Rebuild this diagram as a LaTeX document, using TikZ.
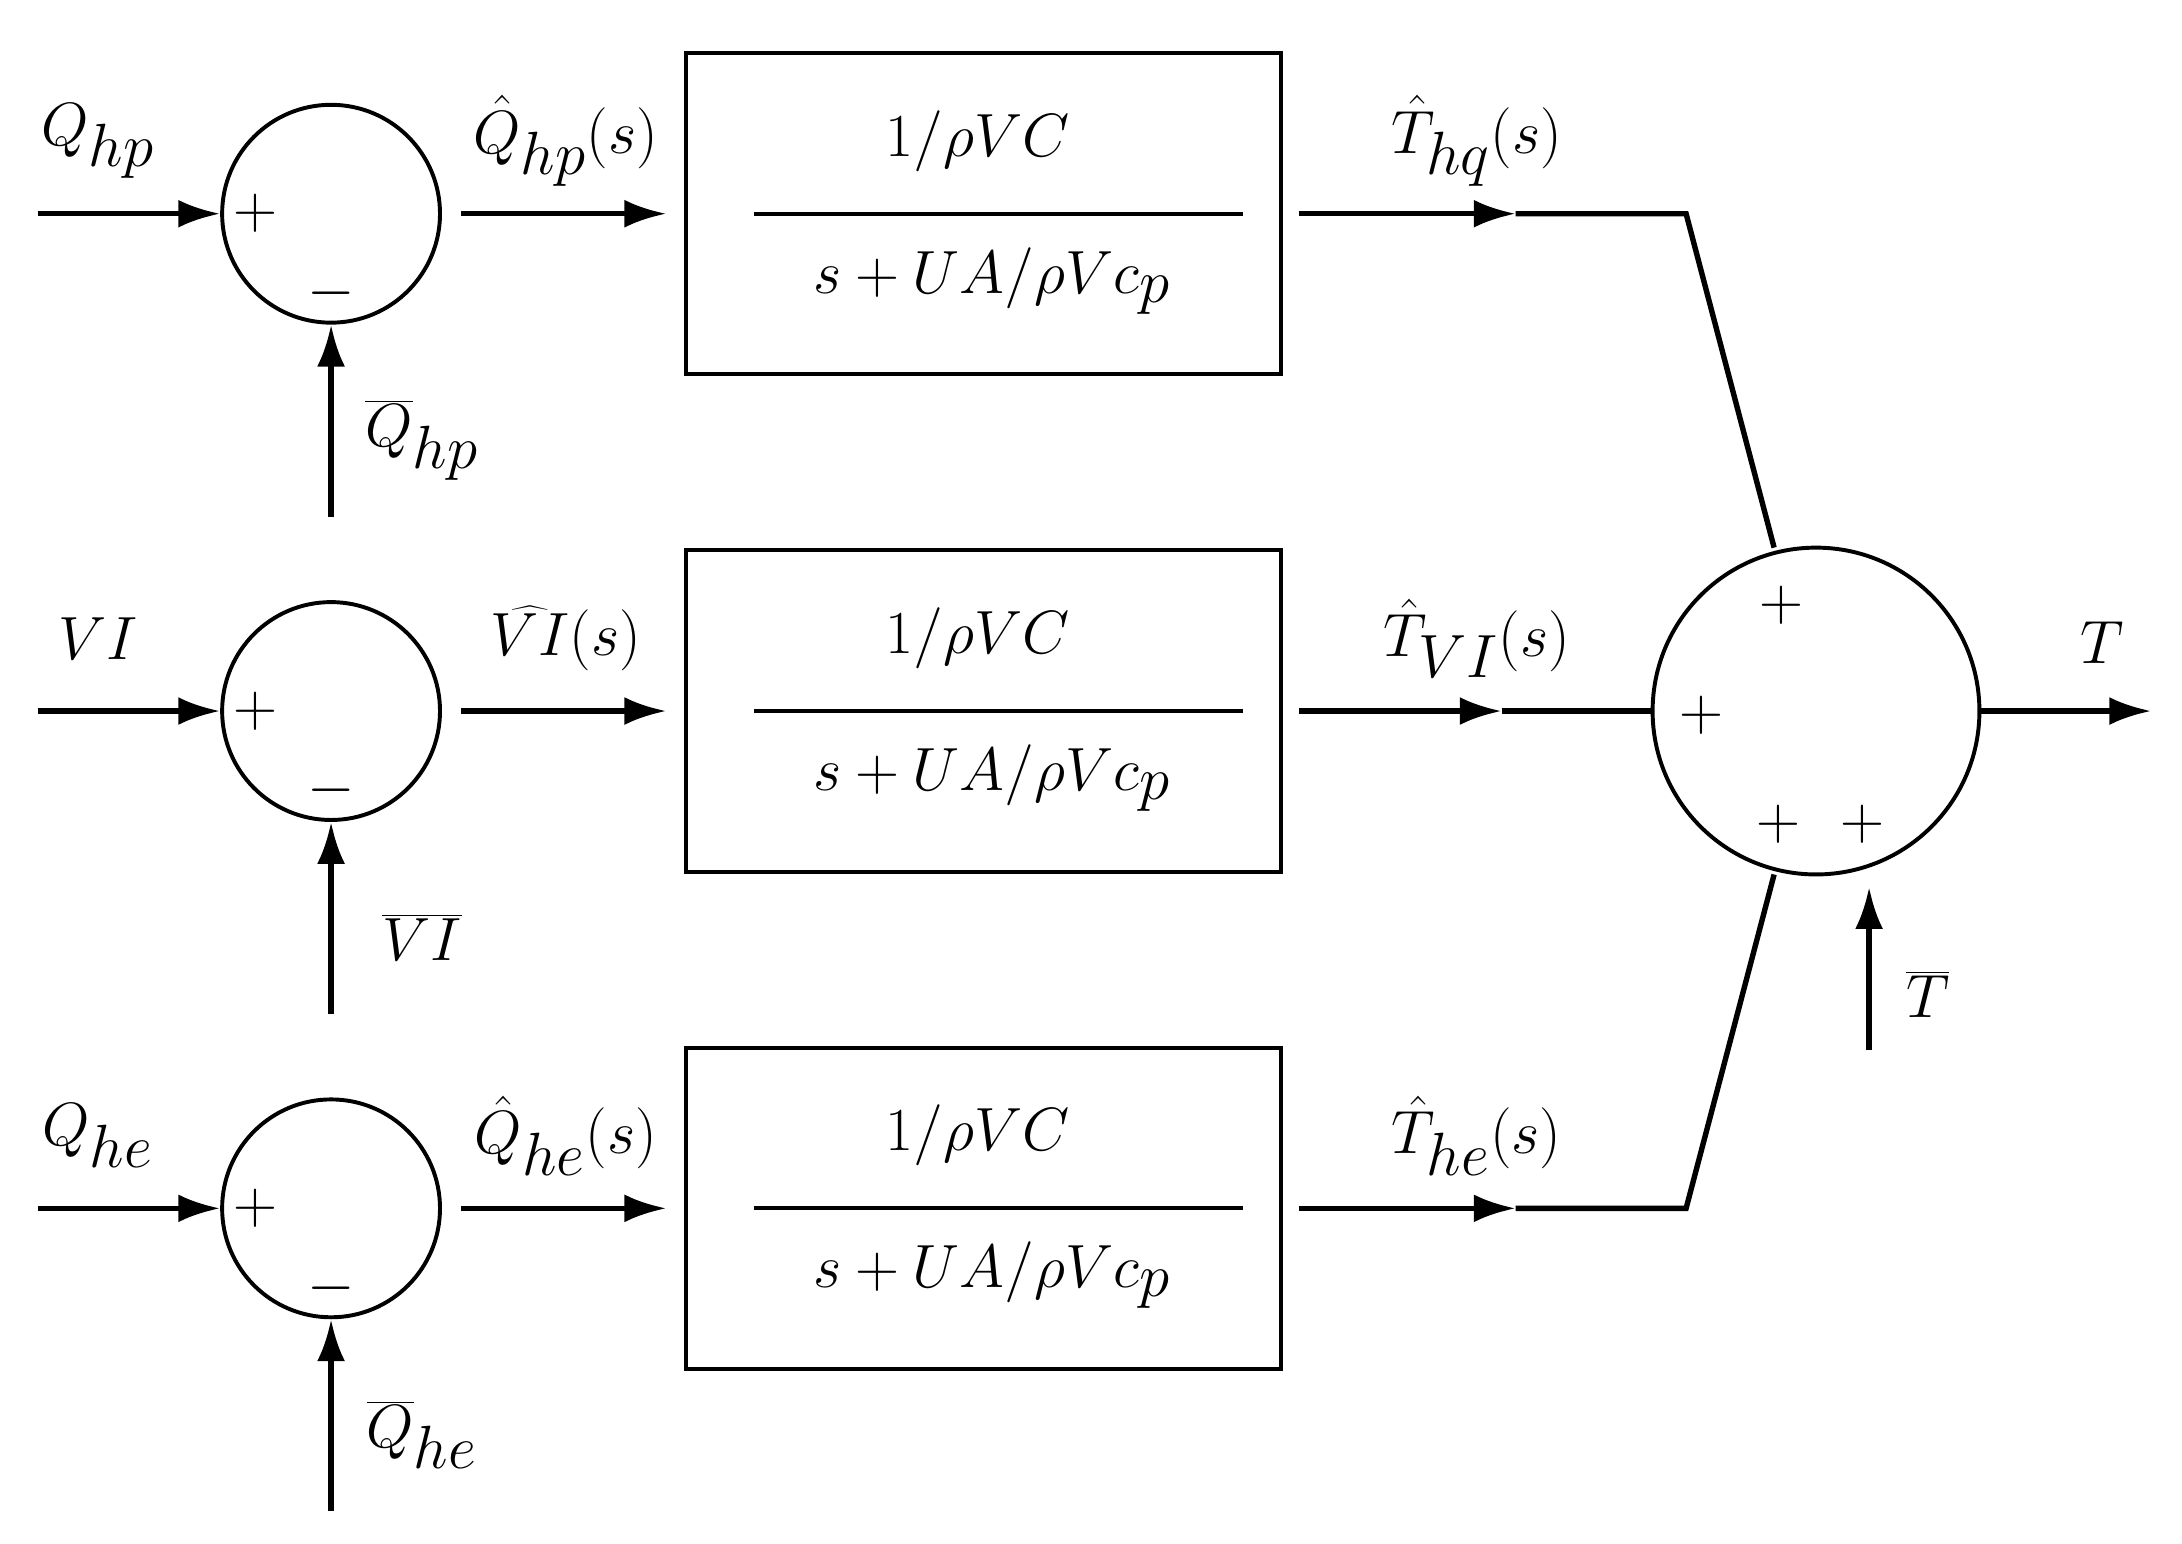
\documentclass[tikz,border=0pt]{standalone}
\usetikzlibrary{arrows.meta}
\begin{document}
\begin{tikzpicture}[x=0.02cm,y=-0.02cm,line width=2.2pt,
  arr/.style={-{Latex[length=0.6cm,width=0.4cm]}},
  sumc/.style={circle,draw,minimum size=3.12cm,inner sep=0pt,line width=1.6pt},
  bigc/.style={circle,draw,minimum size=4.68cm,inner sep=0pt,line width=1.6pt},
  blk/.style={draw,line width=1.6pt,minimum width=8.52cm,minimum height=4.6cm,inner sep=0pt},
  lbl/.style={font=\fontsize{33}{37}\selectfont,inner sep=0pt},
  sgn/.style={font=\fontsize{30}{34}\selectfont,inner sep=0pt}]
\useasboundingbox (0,0) rectangle (1562,1105);
\foreach \n/\y/\myin/\mybar/\myhat/\myout in {
  a/153/{Q_{hp}}/{\overline{Q}_{hp}}/{\hat{Q}_{hp}(s)}/{\hat{T}_{hq}(s)},
  b/509/{VI}/{\overline{VI}}/{\widehat{VI}(s)}/{\hat{T}_{VI}(s)},
  c/865/{Q_{he}}/{\overline{Q}_{he}}/{\hat{Q}_{he}(s)}/{\hat{T}_{he}(s)}}{
  \node[sumc] (s\n) at (237,\y) {};
  \node[sgn] at (183,\y) {$+$};
  \node[sgn] at (237,\y+57) {$-$};
  \coordinate (in\n) at (27,\y);
  \draw[arr] (in\n) -- (s\n.west);
  \node[lbl] at (70,\y-52) {$\myin$};
  \coordinate (bb\n) at (237,\y+217);
  \draw[arr] (bb\n) -- (s\n.south);
  \node[lbl] at (302,\y+162) {$\mybar$};
  \node[blk] (k\n) at (704,\y) {};
  \coordinate (o\n) at (330,\y);
  \coordinate (e\n) at (477,\y);
  \draw[arr] (o\n) -- (e\n);
  \node[lbl] at (405,\y-52) {$\myhat$};
  \draw[line width=1.6pt] (540,\y) -- (890,\y);
  \node[lbl] at (700,\y-52) {$1/\rho VC$};
  \node[lbl] at (710,\y+48) {$s+UA/\rho Vc_p$};
  \node[lbl] at (1057,\y-52) {$\myout$};
}
\node[bigc] (big) at (1300,509) {};
\draw[arr] (930,153) -- (1085,153);
\draw (1085,153) -- (1207,153) -- (1270,392);
\draw[arr] (930,509) -- (1075,509);
\draw (1075,509) -- (big.west);
\draw[arr] (930,865) -- (1085,865);
\draw (1085,865) -- (1207,865) -- (1270,626);
\node[sgn] at (1275,433) {$+$};
\node[sgn] at (1218,512) {$+$};
\node[sgn] at (1273,590) {$+$};
\node[sgn] at (1333,590) {$+$};
\coordinate (tout) at (1540,509);
\draw[arr] (big.east) -- (tout);
\node[lbl] at (1505,460) {$T$};
\coordinate (tb) at (1338,752);
\draw[arr] (tb) -- (1338,635);
\node[lbl] at (1380,712) {$\overline{T}$};
\end{tikzpicture}
\end{document}
